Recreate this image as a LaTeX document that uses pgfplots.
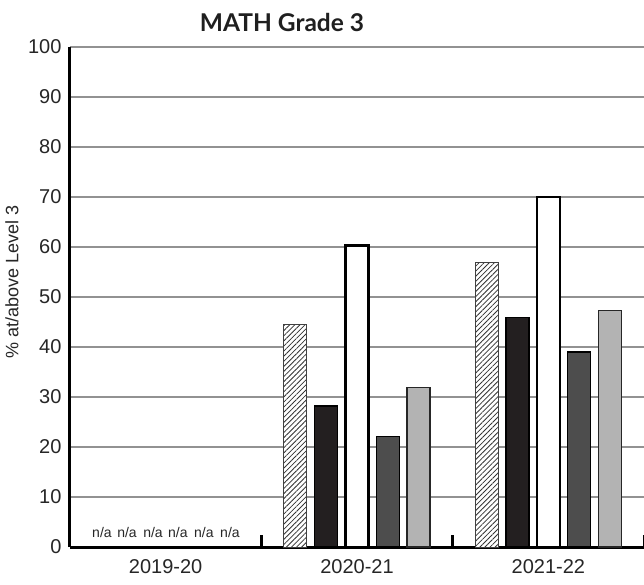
\documentclass[border=0pt]{standalone}
\usepackage{pgfplots}
\pgfplotsset{compat=1.18}
\usetikzlibrary{patterns.meta}
\usepackage{fontspec}
\setmainfont{Liberation Sans}
\newfontfamily\titlefont{Lato}
\definecolor{barblack}{HTML}{231F20}
\definecolor{bardark}{HTML}{4D4D4D}
\definecolor{barlight}{HTML}{B3B3B3}
\definecolor{gridgray}{HTML}{929292}
\begin{document}
\begin{tikzpicture}
\begin{axis}[
  at={(0,0)}, anchor=south west,
  scale only axis, width=574pt, height=500pt,
  xmin=0, xmax=3, ymin=0, ymax=100,
  axis x line=bottom, axis y line=left,
  axis line style={-, black, line width=3pt},
  ytick={0,10,...,100},
  ymajorgrids, grid style={gridgray, line width=1.1pt},
  ytick style={draw=none},
  yticklabel style={xshift=-5pt},
  xtick={1,2,3}, xticklabels={},
  xtick style={black, line width=3pt},
  tick align=inside, major tick length=12pt,
  extra x ticks={0.5,1.5,2.5},
  extra x tick labels={2019-20,2020-21,2021-22},
  extra x tick style={major tick length=0pt, grid=none, xtick style={draw=none},
     xticklabel style={yshift=-9pt}},
  ticklabel style={font=\fontsize{20}{24}\selectfont, text=black!85},
  /pgf/number format/assume math mode=true,
  ylabel={\% at/above Level 3},
  ylabel style={at={(axis description cs:-0.101,0.53)}, anchor=center, font=\fontsize{18}{22}\selectfont, text=black!85},
  clip=false,
]
% hatched
\addplot[ybar, bar width=0.12, bar shift=0pt, draw=black!75, line width=1pt, fill=white,
  postaction={pattern={Lines[angle=45,distance=3.6pt,line width=0.8pt]}, pattern color=black!80}]
  coordinates {(1.178,44.5) (2.178,57.0)};
% black
\addplot[ybar, bar width=0.12, bar shift=0pt, draw=black, line width=1.5pt, fill=barblack]
  coordinates {(1.339,28.2) (2.339,45.9)};
% white
\addplot[ybar, bar width=0.12, bar shift=0pt, draw=black, line width=2.5pt, fill=white]
  coordinates {(1.500,60.3) (2.500,70.0)};
% dark gray
\addplot[ybar, bar width=0.12, bar shift=0pt, draw=black, line width=1.5pt, fill=bardark]
  coordinates {(1.661,22.1) (2.661,39.0)};
% light gray
\addplot[ybar, bar width=0.12, bar shift=0pt, draw=black!85, line width=1.5pt, fill=barlight]
  coordinates {(1.822,31.9) (2.822,47.3)};
% n/a labels
\addplot[draw=none, mark=none, nodes near coords, point meta=explicit symbolic,
  every node near coord/.append style={anchor=base, yshift=10pt, inner sep=0pt, font=\fontsize{14}{16}\selectfont, text=black!85}]
  coordinates {(0.167,0)[n/a] (0.298,0)[n/a] (0.434,0)[n/a] (0.564,0)[n/a] (0.700,0)[n/a] (0.836,0)[n/a]};
\end{axis}
\node[font=\titlefont\bfseries\fontsize{24.5}{28}\selectfont, anchor=base, text=black!88] at (212pt,515.3pt) {MATH Grade 3};
\pgfresetboundingbox
\path[use as bounding box] (-70pt,-37pt) rectangle (574pt,547pt);
\end{tikzpicture}
\end{document}
